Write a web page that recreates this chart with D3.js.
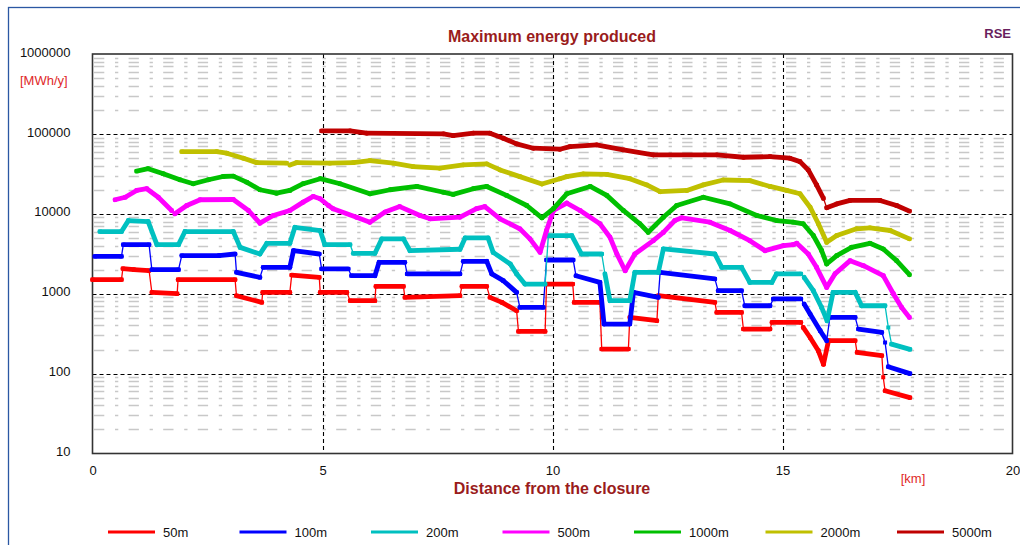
<!DOCTYPE html>
<html>
<head>
<meta charset="utf-8">
<script src="https://cdn.jsdelivr.net/npm/d3@7"></script>
<style>
  body { margin: 0; background: #fff; }
  svg { display: block; }
  text { font-family: "Liberation Sans", Arial, sans-serif; }
</style>
</head>
<body>
<svg id="chart" width="1020" height="545"></svg>
<script>
// Maximum energy produced [MWh/y] vs. distance from the closure [km], per depth class
const seriesNames = ["50m", "100m", "200m", "500m", "1000m", "2000m", "5000m"];
const seriesColors = ["#ff0000", "#0000ff", "#00c0c0", "#ff00ff", "#00c000", "#c0c000", "#c00000"];

// [km, MWh/y]
const s50m = [[0.0,1500],[0.63,1500],[0.66,2060],[0.9,2000],[1.23,1950],[1.29,1040],[1.84,1000],[1.86,1500],[3.10,1500],[3.13,944],[3.68,778],[3.70,1040],[4.29,1040],[4.33,1710],[4.93,1600],[4.95,1040],[5.53,1040],[5.60,817],[6.14,817],[6.16,1235],[6.76,1235],[6.79,900],[7.99,944],[8.03,1235],[8.57,1235],[8.64,900],[8.90,778],[9.22,612],[9.26,337],[9.84,337],[9.87,1320],[10.44,1320],[10.47,778],[11.03,778],[11.07,203],[11.65,203],[11.68,505],[12.27,459],[12.30,944],[13.53,778],[13.57,583],[14.11,583],[14.15,361],[14.73,361],[14.77,437],[15.40,437],[15.45,378],[15.60,283],[15.78,193],[15.89,131],[16.00,258],[16.58,258],[16.62,184],[17.16,168],[17.19,90],[17.23,61],[17.77,50]];
const s100m = [[0.05,2930],[0.63,2930],[0.67,4110],[1.23,4110],[1.29,2000],[1.87,2000],[1.94,3000],[2.75,3000],[3.10,3140],[3.13,1850],[3.64,1600],[3.71,2140],[4.29,2140],[4.37,3460],[4.93,3140],[4.98,2040],[5.56,2040],[5.63,1680],[6.14,1680],[6.23,2470],[6.79,2470],[6.84,1770],[7.99,1770],[8.06,2540],[8.57,2540],[8.68,1770],[8.93,1455],[9.22,1040],[9.29,673],[9.80,673],[9.87,2640],[10.45,2640],[10.51,1680],[11.03,1385],[11.12,417],[11.68,417],[11.76,1040],[12.30,900],[12.34,1850],[13.53,1530],[13.60,1090],[14.11,1090],[14.18,707],[14.73,707],[14.80,859],[15.40,859],[15.47,743],[15.60,557],[15.82,344],[15.96,258],[16.03,505],[16.58,505],[16.65,361],[17.16,327],[17.23,245],[17.30,122],[17.77,100]];
const s200m = [[0.16,6000],[0.63,6000],[0.78,8220],[1.21,8000],[1.40,4110],[1.87,4110],[2.01,6000],[3.06,6000],[3.21,3800],[3.64,3140],[3.79,4270],[4.29,4270],[4.40,6770],[4.95,6160],[5.05,4110],[5.60,4110],[5.67,3200],[6.14,3200],[6.29,4850],[6.76,4850],[6.90,3460],[7.99,3600],[8.10,4990],[8.60,4990],[8.71,3290],[9.08,2360],[9.22,1770],[9.40,1320],[9.84,1320],[9.91,5330],[10.42,5330],[10.63,3140],[11.07,3140],[11.14,1770],[11.25,817],[11.68,817],[11.79,1850],[12.30,1850],[12.41,3630],[13.53,3140],[13.68,2140],[14.11,2140],[14.29,1385],[14.77,1385],[14.87,1770],[15.40,1770],[15.47,1600],[15.67,1090],[15.85,673],[15.97,459],[16.10,1040],[16.58,1040],[16.72,707],[17.23,707],[17.30,378],[17.37,234],[17.77,201]];
const s500m = [[0.49,15000],[0.71,16100],[0.96,19600],[1.18,20600],[1.43,16100],[1.72,11000],[1.79,10000],[2.05,12700],[2.34,15000],[3.06,15100],[3.39,11000],[3.64,7630],[3.93,9520],[4.29,11000],[4.58,14000],[4.80,16500],[4.95,15400],[5.13,12700],[5.23,11600],[5.74,9060],[6.03,7850],[6.36,10500],[6.68,12300],[7.12,9520],[7.34,8660],[7.99,9060],[8.35,11600],[8.53,12300],[8.86,8660],[9.29,6490],[9.51,4860],[9.73,3300],[9.87,6180],[10.02,11000],[10.31,13600],[10.60,11000],[11.03,7500],[11.25,5090],[11.40,3140],[11.58,1940],[11.79,3140],[12.19,4610],[12.41,5860],[12.66,8240],[12.81,8910],[13.42,7850],[13.86,6180],[14.29,4610],[14.62,3460],[15.02,4000],[15.23,4110],[15.31,4270],[15.56,3140],[15.74,2140],[15.96,1200],[16.14,1770],[16.47,2590],[16.76,2240],[17.19,1680],[17.41,1000],[17.59,673],[17.76,505]];
const s1000m = [[0.96,34200],[1.21,36700],[1.54,31700],[1.90,26700],[2.19,23800],[2.52,26700],[2.84,29300],[3.06,29600],[3.35,24900],[3.64,20000],[4.00,18100],[4.29,19600],[4.58,23800],[4.95,27500],[5.38,23800],[6.03,17800],[6.47,20000],[7.05,22000],[7.63,18600],[7.84,17500],[8.28,20600],[8.57,22000],[9.00,17000],[9.44,12700],[9.77,8910],[10.02,11600],[10.31,17800],[10.82,22000],[11.18,17000],[11.54,11000],[11.90,7500],[12.08,5880],[12.41,9060],[12.70,12700],[13.28,16100],[13.86,13300],[14.44,9520],[14.87,8240],[15.23,7850],[15.45,7500],[15.67,5350],[15.85,3470],[15.96,2360],[16.18,3000],[16.50,3800],[16.90,4270],[17.19,3630],[17.48,2590],[17.76,1730]];
const s2000m = [[1.94,60000],[2.70,60000],[2.92,57300],[3.28,49600],[3.57,43700],[4.22,43000],[4.29,40900],[4.44,43700],[5.16,43000],[5.67,43700],[6.03,46300],[6.54,43000],[6.97,38900],[7.55,37200],[8.06,40900],[8.57,42100],[8.86,35400],[9.29,29200],[9.77,23600],[10.16,27500],[10.31,29200],[10.67,31500],[11.18,31200],[11.68,27500],[12.05,23000],[12.34,18900],[12.92,19600],[13.28,23000],[13.71,26500],[14.29,26000],[14.73,22000],[15.09,19600],[15.38,17800],[15.60,12100],[15.78,7500],[15.96,4400],[16.18,5350],[16.61,6490],[16.90,6670],[17.34,6180],[17.76,4860]];
const s5000m = [[4.98,109000],[5.60,109000],[5.96,102000],[7.63,100000],[7.84,95200],[8.28,102000],[8.64,102000],[8.93,88400],[9.22,75000],[9.58,66200],[10.16,64300],[10.38,69300],[10.96,72800],[11.54,63000],[12.19,54500],[13.57,54500],[14.15,51000],[14.73,52000],[15.16,49600],[15.38,45000],[15.56,35400],[15.74,23000],[15.89,15600],[15.96,11900],[16.18,13300],[16.47,14700],[17.12,14700],[17.48,12700],[17.76,10800]];

const seriesData = [s50m, s100m, s200m, s500m, s1000m, s2000m, s5000m];

const xTicks = [0, 5, 10, 15, 20];
const yTicks = [10, 100, 1000, 10000, 100000, 1000000];

const svg = d3.select("#chart");
const plot = { left: 92.5, right: 1012.5, top: 54, bottom: 453.5 };

const x = d3.scaleLinear().domain([0, 20]).range([plot.left, plot.right]);
const y = d3.scaleLog().domain([10, 1000000]).range([plot.bottom, plot.top]);

// outer frame
svg.append("rect")
  .attr("x", 8.5).attr("y", 7.5).attr("width", 1100).attr("height", 700)
  .attr("fill", "none").attr("stroke", "#2b57a3").attr("stroke-width", 1.3);

// minor horizontal grid (2..9 of each decade)
const minorVals = [];
for (let d = 10; d < 1000000; d *= 10) for (let m = 2; m <= 9; m++) minorVals.push(m * d);
svg.append("g").selectAll("line").data(minorVals).join("line")
  .attr("x1", plot.left + 1.5).attr("x2", plot.right - 1)
  .attr("y1", d => Math.round(y(d)) + 0.5).attr("y2", d => Math.round(y(d)) + 0.5)
  .attr("stroke", "#c8c8c8").attr("stroke-width", 1.6)
  .attr("stroke-dasharray", "10.3,10.7,3.3,10.3");

// major grid, dashed
const gMajor = svg.append("g").attr("stroke", "#000").attr("stroke-width", 1.1).attr("stroke-dasharray", "4,3");
gMajor.selectAll("line.h").data(yTicks.slice(1, -1)).join("line").attr("class", "h")
  .attr("x1", plot.left).attr("x2", plot.right)
  .attr("y1", d => Math.round(y(d)) + 0.5).attr("y2", d => Math.round(y(d)) + 0.5);
gMajor.selectAll("line.v").data(xTicks.slice(1, -1)).join("line").attr("class", "v")
  .attr("y1", plot.top).attr("y2", plot.bottom)
  .attr("x1", d => Math.round(x(d)) + 0.5).attr("x2", d => Math.round(x(d)) + 0.5);

// plot border
svg.append("rect")
  .attr("x", plot.left).attr("y", plot.top)
  .attr("width", plot.right - plot.left).attr("height", plot.bottom - plot.top)
  .attr("fill", "none").attr("stroke", "#333").attr("stroke-width", 1.6);

// axes labels via d3 axes
const yAxis = d3.axisLeft(y).tickValues(yTicks).tickFormat(d3.format("d")).tickSize(0).tickPadding(22);
const gy = svg.append("g").attr("transform", `translate(${plot.left},-2)`).call(yAxis);
gy.select(".domain").remove();
gy.selectAll("text").attr("font-size", 13).attr("fill", "#111")
  .attr("font-family", "'Liberation Sans', Arial, sans-serif");

const xAxis = d3.axisBottom(x).tickValues(xTicks).tickFormat(d3.format("d")).tickSize(0).tickPadding(12);
const gx = svg.append("g").attr("transform", `translate(0,${plot.bottom})`).call(xAxis);
gx.select(".domain").remove();
gx.selectAll("text").attr("font-size", 13).attr("fill", "#111")
  .attr("font-family", "'Liberation Sans', Arial, sans-serif");

// series
const seriesG = svg.append("g");
seriesData.forEach((pts, i) => {
  const col = seriesColors[i];
  const g = seriesG.append("g");
  // thin connecting line everywhere
  g.append("path")
    .attr("d", d3.line().x(d => x(d[0])).y(d => y(d[1]))(pts))
    .attr("fill", "none").attr("stroke", col).attr("stroke-width", 1.3);
  // thick band where points are spread out along x
  const segs = d3.pairs(pts).filter(([a, b]) => Math.abs(x(b[0]) - x(a[0])) >= 3.5);
  g.selectAll("line").data(segs).join("line")
    .attr("x1", d => x(d[0][0])).attr("y1", d => y(d[0][1]))
    .attr("x2", d => x(d[1][0])).attr("y2", d => y(d[1][1]))
    .attr("stroke", col).attr("stroke-width", 4.8).attr("stroke-linecap", "round");
  // point markers
  g.selectAll("rect").data(pts).join("rect")
    .attr("x", d => x(d[0]) - 2).attr("y", d => y(d[1]) - 2)
    .attr("width", 4).attr("height", 4).attr("fill", col);
});

// titles
svg.append("text").attr("x", 552).attr("y", 42).attr("text-anchor", "middle")
  .attr("font-size", 16).attr("font-weight", "bold").attr("fill", "#9a1c1c")
  .text("Maximum energy produced");
svg.append("text").attr("x", 1011).attr("y", 38).attr("text-anchor", "end")
  .attr("font-size", 13).attr("font-weight", "bold").attr("fill", "#6a1f5e")
  .text("RSE");
svg.append("text").attr("x", 20).attr("y", 85)
  .attr("font-size", 13).attr("fill", "#e02828").text("[MWh/y]");
svg.append("text").attr("x", 552).attr("y", 494).attr("text-anchor", "middle")
  .attr("font-size", 16).attr("font-weight", "bold").attr("fill", "#9a1c1c")
  .text("Distance from the closure");
svg.append("text").attr("x", 913).attr("y", 483).attr("text-anchor", "middle")
  .attr("font-size", 13).attr("fill", "#e02828").text("[km]");

// legend
const legend = svg.append("g").selectAll("g").data(seriesNames).join("g")
  .attr("transform", (d, i) => `translate(${108 + i * 131.5},532)`);
legend.append("line").attr("x1", 0).attr("x2", 47).attr("y1", 0).attr("y2", 0)
  .attr("stroke", (d, i) => seriesColors[i]).attr("stroke-width", 3);
legend.append("text").attr("x", 55).attr("y", 4.5)
  .attr("font-size", 13).attr("fill", "#111").text(d => d);
</script>
</body>
</html>
